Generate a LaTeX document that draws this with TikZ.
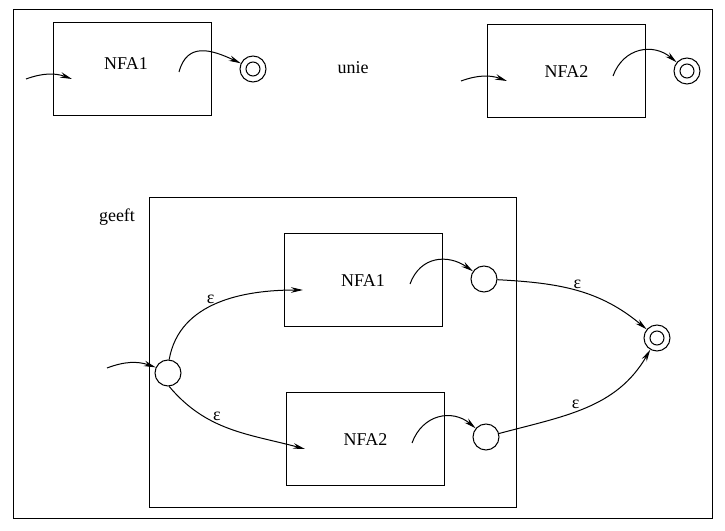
\documentclass[tikz,border=0pt]{standalone}
\usepackage{fontspec}
\setmainfont{Liberation Serif}
\usetikzlibrary{arrows.meta}

\begin{document}
\begin{tikzpicture}[x=0.5pt, y=0.5pt, line width=0.5pt,
            every node/.style = {font=\fontsize{9}{11}\selectfont},
            nfabox/.style = {draw, minimum width=79pt, minimum height=46.5pt},
            state/.style = {draw, circle, minimum size=13pt, inner sep=0pt},
            accept/.style = {state, path picture={\draw (path picture bounding box.center) circle (3.5pt);}},
            eps/.style = {inner sep=1pt, above},
            arr/.style = {-{Stealth[length=6pt, width=2.8pt]}}]
            \useasboundingbox (0,0) rectangle (725,531);
            \draw (13,12) rectangle (712,521);
            % unie
            \node[nfabox, label={[yshift=2.5pt, xshift=-3pt]center:NFA1}] (a1) at (132,462) {};
            \node[accept] (f1) at (253,462) {};
            \node (unie) at (353,463) {unie};
            \node[nfabox] (a2) at (566.5,459.5) {NFA2};
            \node[accept] (f2) at (687,460) {};
            \coordinate (i1) at (26,452);
            \coordinate (e1) at (72,452);
            \coordinate (o1) at (179,459);
            \coordinate (i2) at (461,450);
            \coordinate (e2) at (507,450);
            \coordinate (o2) at (613,455);
            \draw[arr] (i1) to[bend left=20] (e1);
            \draw[arr] (o1) to[out=75, in=155, looseness=1.3] (f1);
            \draw[arr] (i2) to[bend left=20] (e2);
            \draw[arr] (o2) to[out=70, in=140, looseness=1.2] (f2);
            % geeft
            \node (geeft) at (117,314) {geeft};
            \draw (149,23) rectangle (516,333);
            \node[nfabox] (b1) at (363,250.5) {NFA1};
            \node[nfabox] (b2) at (365.5,91.5) {NFA2};
            \node[state] (s) at (168,158) {};
            \node[state] (q1) at (484,252) {};
            \node[state] (q2) at (486,94) {};
            \node[accept] (f) at (657,193) {};
            \coordinate (i3) at (107,163);
            \coordinate (e3) at (303,241);
            \coordinate (e4) at (305,82);
            \coordinate (o3) at (410,247);
            \coordinate (o4) at (412,88);
            \draw[arr] (i3) to[bend left=20] (s);
            \draw[arr] (s.85) to[out=80, in=180] node[eps, pos=.45] {ε} (e3);
            \draw[arr] (s.-85) to[out=-50, in=165] node[eps, pos=.4] {ε} (e4);
            \draw[arr] (o3) to[out=70, in=145, looseness=1.2] (q1);
            \draw[arr] (o4) to[out=70, in=140, looseness=1.2] (q2);
            \draw[arr] (q1) to[out=-3, in=140] node[eps, pos=.5] {ε} (f);
            \draw[arr] (q2) to[out=15, in=240] node[eps, pos=.43] {ε} (f);
\end{tikzpicture}
\end{document}
